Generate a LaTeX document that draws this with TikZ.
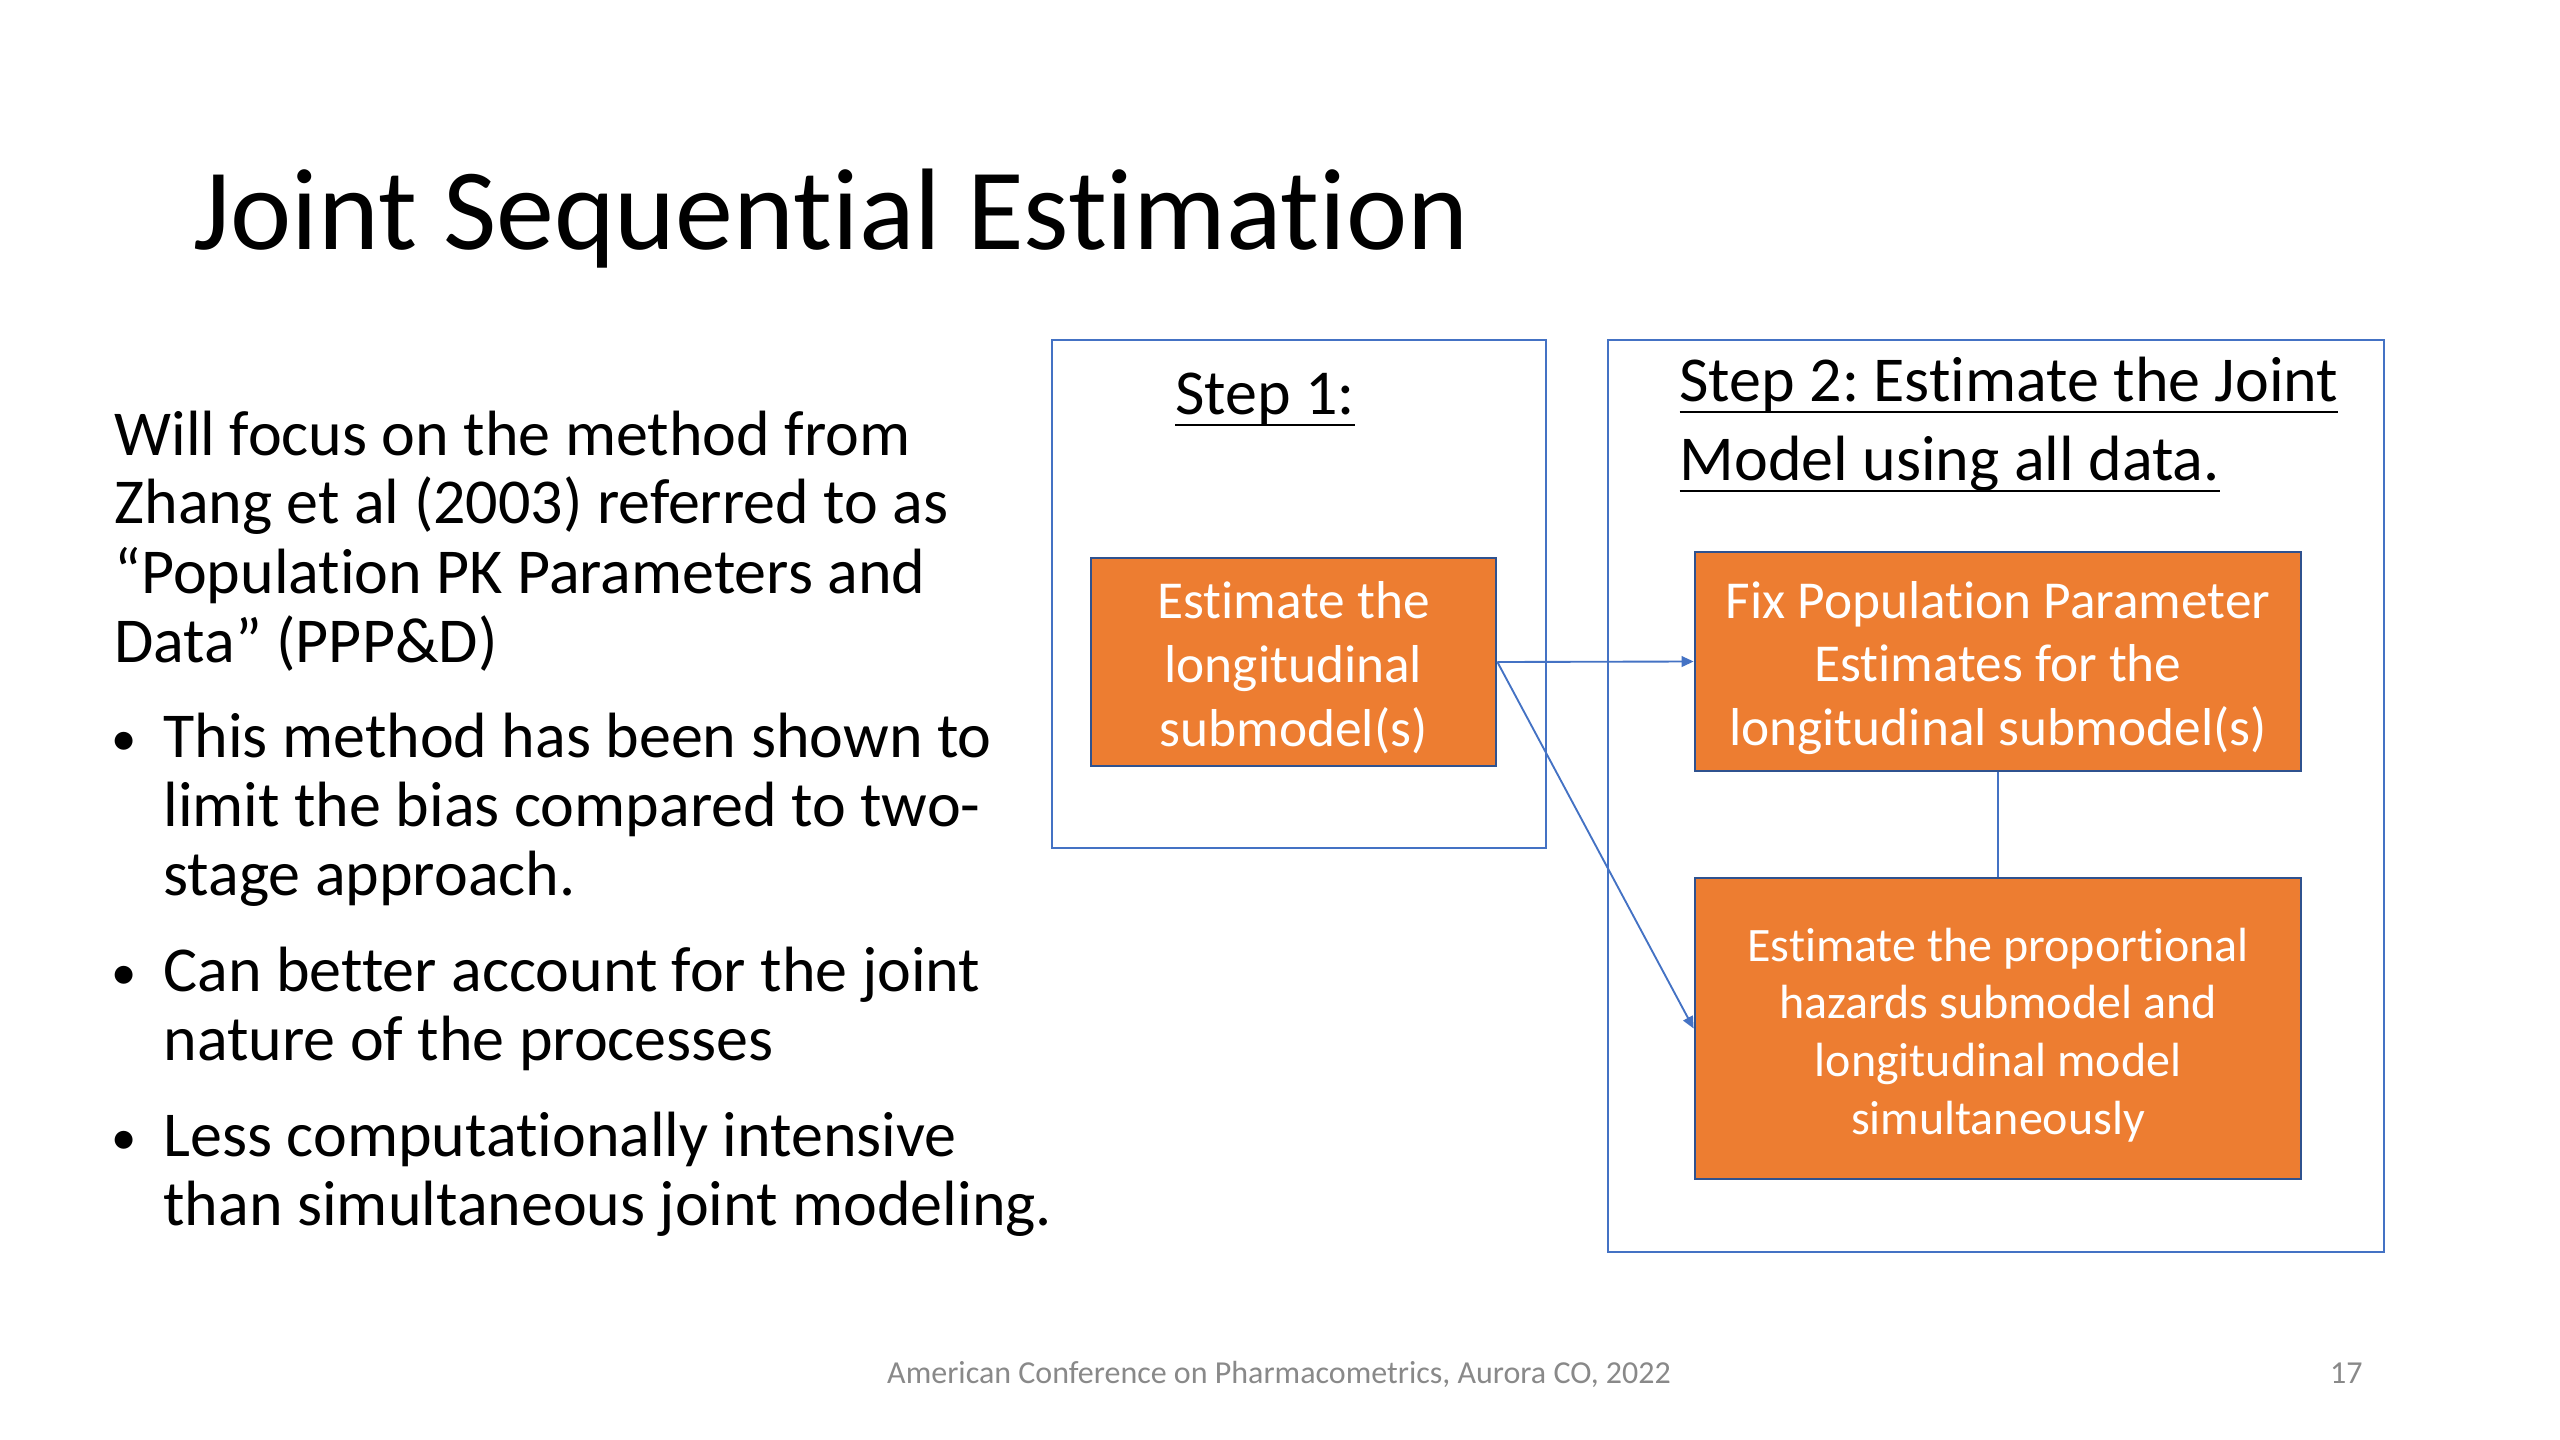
\documentclass[tikz,border=0pt]{standalone}
\usepackage{fontspec}
\setmainfont{Carlito}[Ligatures={NoCommon}]
\usetikzlibrary{arrows.meta}
\definecolor{acc}{HTML}{4472C4}
\definecolor{org}{HTML}{ED7D31}
\definecolor{orgline}{HTML}{2F528F}
\definecolor{foot}{HTML}{898989}
\newcommand\myul[1]{\setbox0\hbox{#1}\rlap{\rule[-4.3pt]{\wd0}{1.1pt}}\box0}
\frenchspacing
\begin{document}
\begin{tikzpicture}[x=0.375pt,y=-0.375pt,
  body/.style={anchor=base west, inner sep=0pt, font=\fontsize{24}{26}\selectfont},
  bul/.style={anchor=base, inner sep=0pt, font=\fontsize{19}{26}\selectfont},
  outer/.style={draw=acc, line width=1pt, inner sep=0pt},
  obox/.style={draw=orgline, line width=1pt, fill=org, inner sep=0pt},
  otext/.style={text=white, align=center, inner sep=0pt},
  conn/.style={draw=acc, line width=0.7pt, -{Triangle[length=4.5pt,width=4pt]}},
  connplain/.style={draw=acc, line width=0.7pt},
  steptitle/.style={inner sep=0pt, font=\fontsize{24}{28}\selectfont}]
\useasboundingbox (0,0) rectangle (2560,1440);
\fill[white] (0,0) rectangle (2560,1440);

% title
\node[anchor=base west, inner sep=0pt, font=\fontsize{43.5}{52}\selectfont] (title) at (193,250) {Joint Sequential Estimation};

% left text
\node[body] (p1) at (114,455) {Will focus on the method from};
\node[body] (p2) at (114,524) {Zhang et al (2003) referred to as};
\node[body] (p3) at (114,593) {“Population PK Parameters and};
\node[body] (p4) at (114,662) {Data” (PPP\&D)};

\node[bul] (b1) at (124,755) {•};
\node[body] (b1a) at (163,757) {This method has been shown to};
\node[body] (b1b) at (163,826) {limit the bias compared to two-};
\node[body] (b1c) at (163,895) {stage approach.};

\node[bul] (b2) at (124,989) {•};
\node[body] (b2a) at (163,991) {Can better account for the joint};
\node[body] (b2b) at (163,1060) {nature of the processes};

\node[bul] (b3) at (124,1154) {•};
\node[body] (b3a) at (163,1156) {Less computationally intensive};
\node[body] (b3b) at (163,1225) {than simultaneous joint modeling.};

% outer boxes
\node[outer, minimum width=185.25pt, minimum height=190.5pt] (s1) at (1299,594) {};
\node[outer, minimum width=291pt, minimum height=342pt] (s2) at (1996,796) {};

% step titles
\node[steptitle, anchor=base] (t1) at (1265,415) {\myul{Step 1:}};
\node[steptitle, anchor=base west] (t2a) at (1679,402) {\myul{Step 2: Estimate the Joint}};
\node[steptitle, anchor=base west] (t2b) at (1679,481) {\myul{Model using all data.}};

% orange boxes
\node[obox, minimum width=151.9pt, minimum height=78pt] (a) at (1293.5,662) {};
\node[otext, font=\fontsize{20}{23.9}\selectfont] (at) at ([yshift=-2.1pt]a.center) {Estimate the\\longitudinal\\submodel(s)};
\node[obox, minimum width=227.3pt, minimum height=82.1pt] (b) at (1998,661.5) {};
\node[otext, font=\fontsize{20}{23.9}\selectfont] (bt) at ([yshift=-2.4pt]b.center) {Fix Population Parameter\\Estimates for the\\longitudinal submodel(s)};
\node[obox, minimum width=227.3pt, minimum height=112.9pt] (c) at (1998,1028.5) {};
\node[otext, font=\fontsize{18}{21.6}\selectfont] (ct) at ([yshift=-2.4pt]c.center) {Estimate the proportional\\hazards submodel and\\longitudinal model\\simultaneously};

% connectors
\draw[conn] (a.east) -- (b.west);
\draw[conn] (a.east) -- (c.west);
\draw[connplain] (b.south) -- (c.north);

% footer
\node[anchor=base, inner sep=0pt, font=\fontsize{12}{14}\selectfont, text=foot] (foot) at (1279,1383) {American Conference on Pharmacometrics, Aurora CO, 2022};
\node[anchor=base east, inner sep=0pt, font=\fontsize{12}{14}\selectfont, text=foot] (num) at (2363,1383) {17};
\end{tikzpicture}
\end{document}
